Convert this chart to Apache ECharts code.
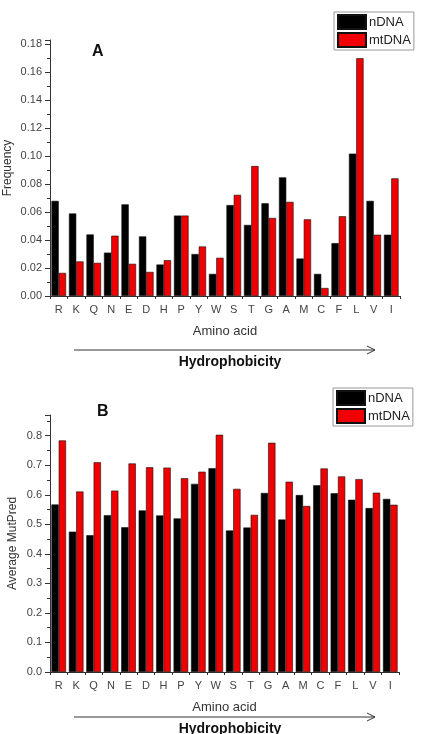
<!DOCTYPE html>
<html>
<head>
<meta charset="utf-8">
<script src="https://cdn.jsdelivr.net/npm/echarts@6/dist/echarts.min.js"></script>
<style>
  html, body { margin: 0; padding: 0; background: #fff; }
  #chart { width: 424px; height: 734px; }
</style>
</head>
<body>
<div id="chart"></div>
<script>
const aminoAcids = ['R', 'K', 'Q', 'N', 'E', 'D', 'H', 'P', 'Y', 'W', 'S', 'T', 'G', 'A', 'M', 'C', 'F', 'L', 'V', 'I']

// panel A: frequency
const freqNDNA = [0.068, 0.059, 0.044, 0.031, 0.0655, 0.0426, 0.0225, 0.0575, 0.030, 0.0158, 0.065, 0.0508, 0.0663, 0.0848, 0.0268, 0.0158, 0.0378, 0.1018, 0.068, 0.0438]
const freqMtDNA = [0.0165, 0.0247, 0.0237, 0.0431, 0.023, 0.0172, 0.0256, 0.0575, 0.0354, 0.0273, 0.0723, 0.0929, 0.0558, 0.0673, 0.0548, 0.0057, 0.057, 0.170, 0.0438, 0.0841]

// panel B: average MutPred score
const mutNDNA = [0.567, 0.475, 0.463, 0.531, 0.490, 0.547, 0.530, 0.520, 0.637, 0.690, 0.479, 0.489, 0.606, 0.516, 0.599, 0.632, 0.605, 0.583, 0.555, 0.586]
const mutMtDNA = [0.784, 0.611, 0.710, 0.614, 0.706, 0.693, 0.692, 0.656, 0.678, 0.803, 0.620, 0.532, 0.776, 0.644, 0.562, 0.689, 0.662, 0.653, 0.607, 0.566]

const font = 'Liberation Sans'
const black = '#000000'
const red = '#f00000'

function xAxisFor(gridIndex) {
  return {
    type: 'category',
    gridIndex,
    data: aminoAcids,
    name: 'Amino acid',
    nameLocation: 'middle',
    nameGap: 29,
    nameTextStyle: { fontFamily: font, fontSize: 13, color: '#333' },
    axisLine: { lineStyle: { color: '#333', width: 1 } },
    axisTick: { show: true, length: 3, lineStyle: { color: '#333' } },
    axisLabel: { fontFamily: font, fontSize: 11, color: '#444', margin: 8, interval: 0 },
    splitLine: { show: false }
  }
}

function yAxisFor(gridIndex, name, max, interval, digits, gap) {
  return {
    type: 'value',
    gridIndex,
    min: 0,
    max,
    interval,
    name,
    nameLocation: 'middle',
    nameGap: gap,
    nameMoveOverlap: false,
    nameTextStyle: { fontFamily: font, fontSize: 12, color: '#333' },
    axisLine: { show: true, lineStyle: { color: '#333', width: 1 } },
    axisTick: { show: true, inside: false, length: 5, lineStyle: { color: '#333' } },
    minorTick: { show: true, splitNumber: 2, length: 3, lineStyle: { color: '#333' } },
    axisLabel: {
      fontFamily: font,
      fontSize: 11,
      color: '#444',
      margin: 8,
      showMaxLabel: false,
      formatter: (v) => v.toFixed(digits)
    },
    splitLine: { show: false },
    minorSplitLine: { show: false }
  }
}

function barSeries(name, data, color, axisIndex) {
  return {
    name,
    type: 'bar',
    xAxisIndex: axisIndex,
    yAxisIndex: axisIndex,
    data,
    barWidth: 7.3,
    barGap: '0%',
    itemStyle: { color, borderColor: '#111', borderWidth: 0.6 },
    emphasis: { disabled: true }
  }
}

function legendAt(left, top) {
  return {
    orient: 'vertical',
    left,
    top,
    icon: 'rect',
    itemWidth: 28,
    itemHeight: 14,
    itemGap: 2,
    padding: [2, 3, 2, 3],
    borderColor: '#999',
    borderWidth: 1,
    data: ['nDNA', 'mtDNA'],
    textStyle: { fontFamily: font, fontSize: 13, color: '#222', padding: [0, 0, 0, -2] },
    selectedMode: false
  }
}

function arrow(y) {
  return [
    { type: 'line', shape: { x1: 74, y1: y, x2: 375, y2: y }, style: { stroke: '#333', lineWidth: 1 } },
    { type: 'polyline', shape: { points: [[367, y - 4], [375, y], [367, y + 4]] }, style: { stroke: '#333', lineWidth: 1, fill: null } }
  ]
}

const chart = echarts.init(document.getElementById('chart'))

const option = {
  backgroundColor: '#fff',
  animation: false,
  grid: [
    { left: 50, top: 40, width: 350, height: 256, containLabel: false, outerBoundsMode: 'none' },
    { left: 50, top: 415, width: 349, height: 257, containLabel: false, outerBoundsMode: 'none' }
  ],
  legend: [legendAt(334, 12), legendAt(333, 388)],
  xAxis: [xAxisFor(0), xAxisFor(1)],
  yAxis: [
    yAxisFor(0, 'Frequency', 0.183, 0.02, 2, 36),
    yAxisFor(1, 'Average MutPred', 0.87, 0.1, 1, 31)
  ],
  series: [
    barSeries('nDNA', freqNDNA, black, 0),
    barSeries('mtDNA', freqMtDNA, red, 0),
    barSeries('nDNA', mutNDNA, black, 1),
    barSeries('mtDNA', mutMtDNA, red, 1)
  ],
  graphic: [
    { type: 'text', left: 92, top: 44, style: { text: 'A', font: 'bold 16px "Liberation Sans"', fill: '#111' } },
    { type: 'text', left: 97, top: 404, style: { text: 'B', font: 'bold 16px "Liberation Sans"', fill: '#111' } },
    ...arrow(350),
    { type: 'text', x: 230, y: 362, style: { text: 'Hydrophobicity', font: 'bold 14px "Liberation Sans"', fill: '#111', align: 'center', verticalAlign: 'middle' } },
    ...arrow(717),
    { type: 'text', x: 230, y: 729, style: { text: 'Hydrophobicity', font: 'bold 14px "Liberation Sans"', fill: '#111', align: 'center', verticalAlign: 'middle' } }
  ]
}

chart.setOption(option)
</script>
</body>
</html>
